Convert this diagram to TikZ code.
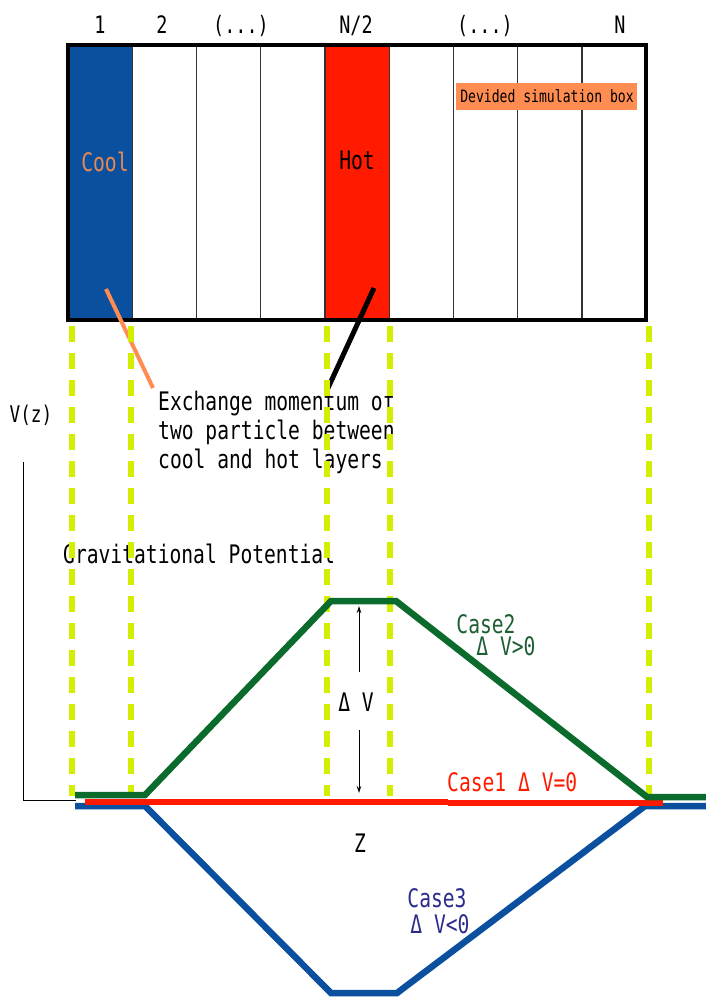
\documentclass[tikz,border=0pt]{standalone}
\usepackage{fontspec}
\usetikzlibrary{arrows.meta}
\newfontfamily\gfont[FakeStretch=0.77]{DejaVu Sans Mono}
\definecolor{coolblue}{HTML}{0B4F9F}
\definecolor{hotred}{HTML}{FF1A00}
\definecolor{lightorange}{HTML}{FF8C50}
\definecolor{coolorange}{HTML}{E88A50}
\definecolor{dgreen}{HTML}{0B6B2D}
\definecolor{ygreen}{HTML}{D4EE00}
\definecolor{navy}{HTML}{2B2B8B}
\definecolor{textgreen}{HTML}{1D5E33}
\definecolor{divgray}{HTML}{333333}
\begin{document}
\begin{tikzpicture}[x=1pt,y=-1pt,
  txt/.style={font=\gfont\fontsize{25.5}{29}\selectfont, inner sep=0pt},
  toplab/.style={font=\gfont\fontsize{24}{27}\selectfont, inner sep=0pt, anchor=base},
  divider/.style={draw=divgray, line width=1.3pt},
  guide/.style={draw=ygreen, line width=6pt, dash pattern=on 16pt off 11pt},
  curve/.style={line width=6.5pt, line join=miter},
  thinarrow/.style={draw=black, line width=0.8pt, -{Stealth[length=7pt,width=4.5pt]}}]
\useasboundingbox (0,0) rectangle (706,998);

% simulation box
\fill[coolblue] (68,45) rectangle (132.25,320);
\fill[hotred] (325,45) rectangle (389.25,320);
\foreach \i in {1,...,8} \draw[divider] ({68+64.25*\i},45) -- ({68+64.25*\i},320);
\node[fill=lightorange, minimum width=181pt, minimum height=27pt, inner sep=0pt] (boxlabel) at (546.5,96) {};
\node[font=\gfont\fontsize{17}{19}\selectfont, inner sep=0pt, anchor=base] (boxlabeltext) at (547,102) {Devided simulation box};
\draw[line width=4pt] (68,45) rectangle (646,320);

% column labels
\node[toplab] (l1) at (100,34) {1};
\node[toplab] (l2) at (162,34) {2};
\node[toplab] (l3) at (241,34) {(...)};
\node[toplab] (l4) at (356,34) {N/2};
\node[toplab] (l5) at (485,34) {(...)};
\node[toplab] (l6) at (620,34) {N};

\node[txt, anchor=base, text=coolorange] (cool) at (105,171) {Cool};
\node[txt, anchor=base] (hot) at (357,169) {Hot};

% annotation
\node[txt, anchor=north west, align=left] (exch) at (158,391)
  {Exchange momentum of\\two particle between\\cool and hot layers};
\coordinate (coolpt) at (106,289);
\coordinate (coolend) at (153,388);
\coordinate (hotpt) at (374,288);
\coordinate (hotend) at (328,388);
\draw[lightorange, line width=4pt] (coolpt) -- (coolend);
\draw[black, line width=5pt] (hotpt) -- (hotend);

% axis
\node[font=\gfont\fontsize{23}{26}\selectfont, inner sep=0pt, anchor=base] (vz) at (31,422) {V(z)};
\coordinate (axtop) at (23,462);
\coordinate (axcorner) at (23,800);
\coordinate (axend) at (76,800);
\draw[line width=0.8pt] (axtop) -- (axcorner) -- (axend);
\node[txt, anchor=base west] (grav) at (63,563) {Gravitational Potential};

% guide lines
\foreach \x in {72,131,327,390,649} \draw[guide] (\x,326) -- (\x,796);

% delta V arrows
\node[txt, anchor=base] (dv) at (356,711) {Δ V};
\coordinate (uptop) at (359,606);
\coordinate (upbot) at (359,672);
\coordinate (dntop) at (359,730);
\coordinate (dnbot) at (359,793);
\draw[thinarrow] (upbot) -- (uptop);
\draw[thinarrow] (dntop) -- (dnbot);

% potential curves
\draw[coolblue, curve] (75,806) -- (145,806) -- (331,993) -- (397,993) -- (645,806) -- (706,806);
\draw[hotred, line width=6pt] (85,802) -- (448,802);
\draw[hotred, line width=6pt] (448,803) -- (663,803);
\draw[dgreen, curve] (75,795) -- (145,795) -- (331,601) -- (396,601) -- (647,797) -- (706,797);

% case labels
\node[txt, anchor=base, text=textgreen] (c2) at (486,633) {Case2};
\node[txt, anchor=base, text=textgreen] (c2b) at (506,655) {Δ V>0};
\node[txt, anchor=base west, text=hotred] (c1) at (447,791) {Case1  Δ V=0};
\node[txt, anchor=base] (z) at (360,852) {Z};
\node[txt, anchor=base, text=navy] (c3) at (437,907) {Case3};
\node[txt, anchor=base, text=navy] (c3b) at (440,933) {Δ V<0};
\end{tikzpicture}
\end{document}
